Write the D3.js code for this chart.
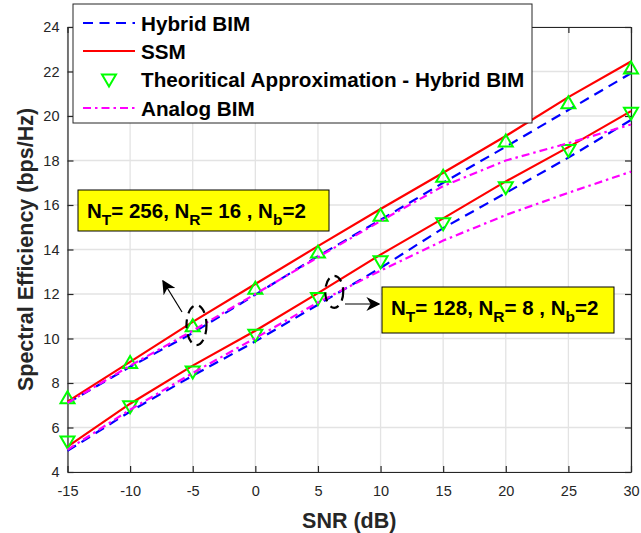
<!DOCTYPE html>
<html>
<head>
<meta charset="utf-8">
<script src="https://cdn.jsdelivr.net/npm/d3@7"></script>
<style>
  html, body { margin: 0; padding: 0; background: #fff; }
  svg { display: block; font-family: "Liberation Sans", Arial, Helvetica, sans-serif; }
</style>
</head>
<body>
<svg id="chart" width="641" height="533"></svg>
<script>
// ---------- data ----------
const snr = [-15, -10, -5, 0, 5, 10, 15, 20, 25, 30];

const hybrid256 = [7.10, 8.73, 10.25, 11.97, 13.70, 15.33, 17.00, 18.62, 20.27, 21.92];
const ssm256    = [7.16, 8.95, 10.75, 12.45, 14.15, 15.82, 17.45, 19.10, 20.85, 22.45];
const theo256   = [7.31, 8.90, 10.55, 12.24, 13.86, 15.52, 17.27, 18.85, 20.57, 22.14];
const analog256 = [7.10, 8.78, 10.35, 12.00, 13.65, 15.28, 16.85, 18.00, 18.78, 19.62];

const hybrid128 = [4.95, 6.72, 8.33, 9.87, 11.52, 13.17, 14.96, 16.54, 18.13, 19.82];
const ssm128    = [5.14, 7.07, 8.78, 10.35, 12.04, 13.77, 15.40, 17.06, 18.60, 20.22];
const theo128   = [5.37, 6.95, 8.52, 10.17, 11.82, 13.47, 15.18, 16.80, 18.47, 20.15];
const analog128 = [5.00, 6.80, 8.45, 10.02, 11.62, 13.05, 14.40, 15.55, 16.55, 17.50];

const xTicks = [-15, -10, -5, 0, 5, 10, 15, 20, 25, 30];
const yTicks = [4, 6, 8, 10, 12, 14, 16, 18, 20, 22, 24];

const legendLabels = ["Hybrid BIM", "SSM", "Theoritical Approximation - Hybrid BIM", "Analog BIM"];
const xLabel = "SNR (dB)";
const yLabel = "Spectral Efficiency (bps/Hz)";

// ---------- layout ----------
const svg = d3.select("#chart");
const L = 67.5, R = 631, T = 27, B = 472;
const x = d3.scaleLinear().domain([-15, 30]).range([L, R]);
const y = d3.scaleLinear().domain([4, 24]).range([B, T]);

const axisColor = "#262626";
const gridColor = "#e3e3e3";

// grid
const g = svg.append("g");
g.selectAll(".gx").data(xTicks).join("line")
  .attr("x1", d => x(d)).attr("x2", d => x(d)).attr("y1", T).attr("y2", B)
  .attr("stroke", gridColor).attr("stroke-width", 1.3);
g.selectAll(".gy").data(yTicks).join("line")
  .attr("y1", d => y(d)).attr("y2", d => y(d)).attr("x1", L).attr("x2", R)
  .attr("stroke", gridColor).attr("stroke-width", 1.3);

// axes (box with inward ticks)
function styleAxis(sel, showText) {
  sel.select(".domain").attr("stroke", axisColor).attr("stroke-width", 1.2);
  sel.selectAll(".tick line").attr("stroke", axisColor).attr("stroke-width", 1.2);
  sel.selectAll(".tick text").attr("fill", axisColor)
    .style("font-size", "14.5px").style("font-family", "'Liberation Sans', Arial, sans-serif");
  if (!showText) sel.selectAll(".tick text").remove();
}
const fmt = d => String(d);
const xb = svg.append("g").attr("transform", `translate(0,${B})`)
  .call(d3.axisBottom(x).tickValues(xTicks).tickSizeInner(-6).tickSizeOuter(0).tickPadding(14).tickFormat(fmt));
styleAxis(xb, true);
const xt = svg.append("g").attr("transform", `translate(0,${T})`)
  .call(d3.axisTop(x).tickValues(xTicks).tickSizeInner(-6).tickSizeOuter(0));
styleAxis(xt, false);
const yl = svg.append("g").attr("transform", `translate(${L},0)`)
  .call(d3.axisLeft(y).tickValues(yTicks).tickSizeInner(-6).tickSizeOuter(0).tickPadding(8).tickFormat(fmt));
styleAxis(yl, true);
const yr = svg.append("g").attr("transform", `translate(${R},0)`)
  .call(d3.axisRight(y).tickValues(yTicks).tickSizeInner(-6).tickSizeOuter(0));
styleAxis(yr, false);

// ---------- series ----------
const line = d3.line().x((d, i) => x(snr[i])).y(d => y(d));
const styles = {
  hybrid: { stroke: "#0000ff", dash: "10,6.5", w: 2.2 },
  ssm:    { stroke: "#ff0000", dash: null, w: 2.2 },
  analog: { stroke: "#ff00ff", dash: "8,4,2.5,4", w: 2.2 }
};
function drawLine(data, st) {
  svg.append("path").datum(data).attr("d", line)
    .attr("fill", "none").attr("stroke", st.stroke).attr("stroke-width", st.w)
    .attr("stroke-dasharray", st.dash);
}
function triPath(cx, cy, up) {
  const h = 12, w = 14;
  return up
    ? `M${cx},${cy - h / 2 - 1}L${cx + w / 2},${cy + h / 2 - 1}L${cx - w / 2},${cy + h / 2 - 1}Z`
    : `M${cx},${cy + h / 2 + 1}L${cx + w / 2},${cy - h / 2 + 1}L${cx - w / 2},${cy - h / 2 + 1}Z`;
}
function drawMarkers(data, up) {
  svg.append("g").selectAll("path").data(data).join("path")
    .attr("d", (d, i) => triPath(x(snr[i]), y(d), up))
    .attr("fill", "none").attr("stroke", "#00ff00").attr("stroke-width", 2);
}

drawLine(hybrid256, styles.hybrid);
drawLine(hybrid128, styles.hybrid);
drawLine(ssm256, styles.ssm);
drawLine(ssm128, styles.ssm);
drawMarkers(theo256, true);
drawMarkers(theo128, false);
drawLine(analog256, styles.analog);
drawLine(analog128, styles.analog);

// ---------- annotations ----------
svg.append("defs").append("marker")
  .attr("id", "ah").attr("viewBox", "0 0 10 10").attr("refX", 9).attr("refY", 5)
  .attr("markerWidth", 14).attr("markerHeight", 14).attr("markerUnits", "userSpaceOnUse")
  .attr("orient", "auto")
  .append("path").attr("d", "M0,0L10,5L0,10L3,5Z").attr("fill", "#000");

svg.append("ellipse").attr("cx", x(-4.7)).attr("cy", y(10.6)).attr("rx", 10).attr("ry", 20)
  .attr("fill", "none").attr("stroke", "#000").attr("stroke-width", 2.2).attr("stroke-dasharray", "9,6");
svg.append("ellipse").attr("cx", x(6.3)).attr("cy", y(12.1)).attr("rx", 9).attr("ry", 16)
  .attr("fill", "none").attr("stroke", "#000").attr("stroke-width", 2.2).attr("stroke-dasharray", "9,6");

svg.append("line").attr("x1", 182).attr("y1", 312).attr("x2", 163).attr("y2", 281)
  .attr("stroke", "#000").attr("stroke-width", 1.2).attr("marker-end", "url(#ah)");
svg.append("line").attr("x1", 345).attr("y1", 304).attr("x2", 379).attr("y2", 304)
  .attr("stroke", "#000").attr("stroke-width", 1.2).attr("marker-end", "url(#ah)");

function labelBox(bx, by, bw, bh, tx, ty, parts) {
  svg.append("rect").attr("x", bx).attr("y", by).attr("width", bw).attr("height", bh)
    .attr("fill", "#ffff00").attr("stroke", "#000").attr("stroke-width", 1);
  const t = svg.append("text").attr("x", tx).attr("y", ty)
    .attr("font-weight", "bold").attr("font-size", 20.5).attr("fill", "#000");
  parts.forEach(p => {
    const s = t.append("tspan").text(p.t);
    if (p.sub) s.attr("font-size", 15.5).attr("dy", 7);
    else if (p.back) s.attr("dy", -7);
  });
}
labelBox(78, 190, 251, 41, 87, 218, [
  { t: "N" }, { t: "T", sub: true }, { t: "= 256, N", back: true }, { t: "R", sub: true },
  { t: "= 16 , N", back: true }, { t: "b", sub: true }, { t: "=2", back: true }
]);
labelBox(382, 287, 232, 46, 391, 315, [
  { t: "N" }, { t: "T", sub: true }, { t: "= 128, N", back: true }, { t: "R", sub: true },
  { t: "= 8 , N", back: true }, { t: "b", sub: true }, { t: "=2", back: true }
]);

// ---------- legend ----------
const lg = svg.append("g");
lg.append("rect").attr("x", 73).attr("y", 4).attr("width", 459).attr("height", 119)
  .attr("fill", "#fff").attr("stroke", axisColor).attr("stroke-width", 1);
const rowsY = [23, 51, 79.5, 108];
const legendStyles = [styles.hybrid, styles.ssm, null, styles.analog];
legendLabels.forEach((lab, i) => {
  const cy = rowsY[i];
  const st = legendStyles[i];
  if (st) {
    lg.append("line").attr("x1", 83).attr("x2", 135).attr("y1", cy).attr("y2", cy)
      .attr("stroke", st.stroke).attr("stroke-width", st.w).attr("stroke-dasharray", st.dash);
  } else {
    lg.append("path").attr("d", triPath(109, cy, false))
      .attr("fill", "none").attr("stroke", "#00ff00").attr("stroke-width", 2);
  }
  lg.append("text").attr("x", 141).attr("y", cy + 7.5)
    .attr("font-weight", "bold").attr("font-size", 20.7).attr("fill", "#000").text(lab);
});

// ---------- axis labels ----------
svg.append("text").attr("x", (L + R) / 2).attr("y", 528).attr("text-anchor", "middle")
  .attr("font-weight", "bold").attr("font-size", 21.5).attr("fill", axisColor).text(xLabel);
svg.append("text").attr("transform", `translate(33,${(T + B) / 2}) rotate(-90)`)
  .attr("text-anchor", "middle").attr("font-weight", "bold").attr("font-size", 21.5)
  .attr("fill", axisColor).text(yLabel);
</script>
</body>
</html>
